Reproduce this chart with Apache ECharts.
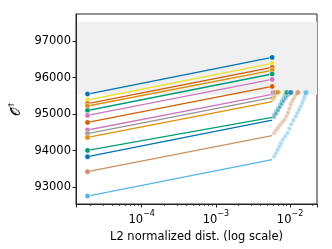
<!DOCTYPE html>
<html><head><meta charset="utf-8">
<script src="https://cdn.jsdelivr.net/npm/echarts@6/dist/echarts.min.js"></script>
<style>html,body{margin:0;padding:0;background:#fff}#c{width:332px;height:249px}</style>
</head><body><div id="c"></div>
<script>
// ---- data ----
const colors = ['#0173b2','#ece133','#d55e00','#de8f05','#029e73','#cc78bc','#d55e00',
                '#cc78bc','#949494','#de8f05','#029e73','#0173b2','#ca9161','#56b4e9'];
const xStart = 1.86e-5;
const xEnd = 5.74e-3;
const yStart = [95551,95387,95285,95222,95099,94965,94772,94564,94462,94361,94004,93831,93420,92753];
const yEnd   = [96556,96391,96281,96199,96100,95952,95760,95540,95450,95340,94910,94835,94407,93750];
// tails (series index -> points)
const tailX = {
  7: [5.82e-3,5.91e-3],
  8: [5.9e-3,6.05e-3,6.2e-3,6.35e-3],
  9: [5.9e-3,6.1e-3,6.3e-3,6.5e-3,6.7e-3,6.85e-3],
  10:[6.1e-3,6.5e-3,6.9e-3,7.3e-3,7.7e-3,8.1e-3,8.5e-3,8.8e-3,9.05e-3],
  11:[6.1e-3,6.5e-3,6.9e-3,7.3e-3,7.75e-3,8.2e-3,8.7e-3,9.2e-3,9.7e-3,1.021e-2],
  12:[6.1e-3,6.5e-3,6.9e-3,7.4e-3,7.9e-3,8.44e-3,8.9e-3,9.4e-3,9.8e-3,1.021e-2,1.07e-2,1.12e-2,1.18e-2,1.235e-2,1.274e-2],
  13:[6.1e-3,6.48e-3,6.8e-3,7.16e-3,7.55e-3,8.0e-3,8.6e-3,9.24e-3,9.8e-3,1.04e-2,1.11e-2,1.19e-2,1.25e-2,1.32e-2,1.39e-2,1.456e-2,1.51e-2,1.56e-2,1.61e-2,1.643e-2]
};
const tailY = {
  7: [95570,95595],
  8: [95490,95530,95565,95595],
  9: [95400,95460,95510,95550,95580,95597],
  10:[94990,95080,95170,95260,95350,95430,95510,95560,95595],
  11:[94920,95010,95100,95190,95280,95360,95440,95510,95560,95595],
  12:[94480,94560,94630,94710,94780,94846,94940,95040,95150,95258,95350,95430,95510,95560,95595],
  13:[93840,93930,94020,94114,94200,94300,94390,94482,94600,94720,94830,94937,95030,95120,95210,95305,95390,95470,95540,95590]
};
const yTicks = [93000,94000,95000,96000,97000];
const xTicks = [1e-4,1e-3,1e-2];
const band = [95530, 97530];

// ---- chart ----
const chart = echarts.init(document.getElementById('c'), null, {renderer:'canvas'});
const font = 'DejaVu Sans';
function hexA(h,a){const r=parseInt(h.slice(1,3),16),g=parseInt(h.slice(3,5),16),b=parseInt(h.slice(5,7),16);return `rgba(${r},${g},${b},${a})`;}
const series = [];
yStart.forEach((ys,i)=>{
  const hasTail = tailX[i] !== undefined;
  series.push({
    type:'line', data:[[xStart,ys],[xEnd,yEnd[i]]],
    symbol:'circle', symbolSize:(v,p)=> (hasTail && p.dataIndex===1) ? 0 : 5.5,
    showSymbol:true, animation:false, z: 3,
    lineStyle:{color:colors[i], width:1.3},
    itemStyle:{color:colors[i], borderColor:'#fff', borderWidth:0.6},
    ...(i===0 ? {markArea:{silent:true, itemStyle:{color:'#f0f0f0'}, data:[[{yAxis:band[0]},{yAxis:band[1]}]], z:0}} : {})
  });
  if (hasTail){
    const pts = tailX[i].map((x,k)=>[x,tailY[i][k]]);
    series.push({
      type:'scatter', data: pts.slice(0,-1), symbol:'circle', symbolSize:4.5, animation:false, z:2,
      itemStyle:{color:hexA(colors[i],0.6), borderColor:'rgba(255,255,255,0.9)', borderWidth:0.6}
    });
    series.push({
      type:'scatter', data: pts.slice(-1), symbol:'circle', symbolSize:5.5, animation:false, z:4,
      itemStyle:{color:colors[i], borderColor:'#fff', borderWidth:0.6}
    });
  }
});

chart.setOption({
  animation:false,
  grid:{left:70, right:15, top:14, bottom:45, show:true, borderColor:'#262626', borderWidth:1, backgroundColor:'transparent'},
  xAxis:{
    type:'log', logBase:10, min:1.3e-5, max:0.0231,
    name:'L2 normalized dist. (log scale)', nameLocation:'middle', nameGap:23,
    nameTextStyle:{fontFamily:font, fontSize:11.5, color:'#000'},
    axisLine:{show:true, onZero:false, lineStyle:{color:'#262626', width:1}},
    axisTick:{show:true, inside:false, length:3.5, lineStyle:{color:'#262626'}},
    minorTick:{show:true, splitNumber:9, length:2, lineStyle:{color:'#262626', width:0.8}},
    splitLine:{show:false}, minorSplitLine:{show:false},
    axisLabel:{customValues:xTicks, margin:6, fontFamily:font, color:'#000',
      formatter:(v)=>'{b|10}{s|−'+Math.round(-Math.log10(v))+'}',
      rich:{b:{fontSize:11.5, fontFamily:font, color:'#000', verticalAlign:'bottom', lineHeight:16},
            s:{fontSize:8, fontFamily:font, color:'#000', verticalAlign:'top', lineHeight:16, padding:[0,0,0,0]}}}
  },
  yAxis:{
    type:'value', min:92534, max:97746,
    name:'{o|𝒪}{a|↑}', nameLocation:'middle', nameRotate:90, nameGap:50,
    nameTextStyle:{fontFamily:font, color:'#000', rich:{o:{fontSize:13, fontFamily:font}, a:{fontSize:8, fontFamily:font, verticalAlign:'top', lineHeight:18}}},
    axisLine:{show:true, onZero:false, lineStyle:{color:'#262626', width:1}},
    axisTick:{show:true, inside:false, length:3.5, lineStyle:{color:'#262626'}, customValues:yTicks},
    splitLine:{show:false},
    axisLabel:{customValues:yTicks, margin:5, fontFamily:font, fontSize:11.5, color:'#000', formatter:(v)=>String(v)}
  },
  series: series
});
</script></body></html>
